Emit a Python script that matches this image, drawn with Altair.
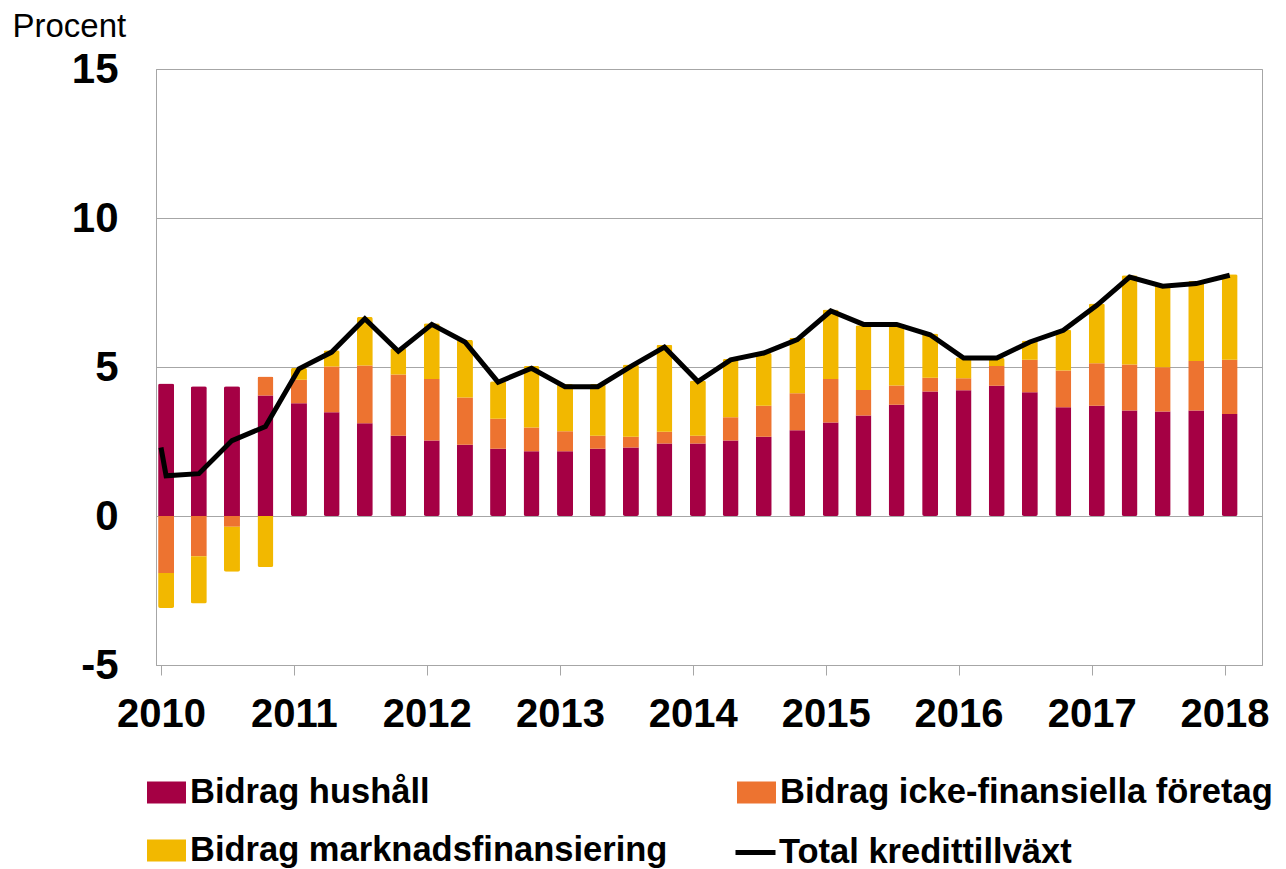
import altair as alt
import pandas as pd

# Quarter dates (mid-month of each quarter start)
quarters = [
    "2010-01-15", "2010-04-15", "2010-07-15", "2010-10-15",
    "2011-01-15", "2011-04-15", "2011-07-15", "2011-10-15",
    "2012-01-15", "2012-04-15", "2012-07-15", "2012-10-15",
    "2013-01-15", "2013-04-15", "2013-07-15", "2013-10-15",
    "2014-01-15", "2014-04-15", "2014-07-15", "2014-10-15",
    "2015-01-15", "2015-04-15", "2015-07-15", "2015-10-15",
    "2016-01-15", "2016-04-15", "2016-07-15", "2016-10-15",
    "2017-01-15", "2017-04-15", "2017-07-15", "2017-10-15",
    "2018-01-15",
]

hushall = [4.45, 4.35, 4.35, 4.04, 3.78, 3.48, 3.11, 2.69, 2.53, 2.39, 2.26, 2.17,
           2.17, 2.26, 2.30, 2.43, 2.43, 2.53, 2.66, 2.88, 3.14, 3.37, 3.73, 4.18,
           4.22, 4.37, 4.15, 3.65, 3.70, 3.54, 3.51, 3.54, 3.42]
icke_fin = [-1.91, -1.35, -0.36, 0.64, 0.79, 1.54, 1.94, 2.06, 2.07, 1.59, 1.00, 0.80,
            0.67, 0.43, 0.36, 0.40, 0.26, 0.78, 1.04, 1.24, 1.46, 0.86, 0.65, 0.46,
            0.40, 0.66, 1.09, 1.23, 1.43, 1.54, 1.48, 1.66, 1.82]
marknad = [-1.18, -1.59, -1.51, -1.71, 0.40, 0.54, 1.63, 0.88, 1.87, 1.93, 1.26, 2.06,
           1.59, 1.74, 2.42, 2.92, 1.86, 1.96, 1.77, 1.86, 2.33, 2.17, 2.07, 1.48,
           0.71, 0.27, 0.65, 1.37, 2.00, 3.00, 2.75, 2.69, 2.87]
total = [1.35, 1.42, 2.53, 3.00, 4.94, 5.50, 6.62, 5.53, 6.43, 5.84, 4.49, 4.96,
         4.34, 4.34, 5.02, 5.67, 4.51, 5.24, 5.47, 5.92, 6.88, 6.43, 6.43, 6.08,
         5.30, 5.30, 5.84, 6.23, 7.07, 8.02, 7.71, 7.80, 8.08]
line_start_date = "2010-01-01"
line_start_value = 2.3

series = ["Bidrag hushåll", "Bidrag icke-finansiella företag", "Bidrag marknadsfinansiering"]
colors = ["#a50044", "#ed7330", "#f2b800"]
line_name = "Total kredittillväxt"
years = [2010, 2011, 2012, 2013, 2014, 2015, 2016, 2017, 2018]
y_ticks = [-5, 0, 5, 10, 15]

FONT = "Liberation Sans"

n = len(quarters)
df_bars = pd.DataFrame({
    "date": pd.to_datetime(quarters * 3),
    "serie": [series[0]] * n + [series[1]] * n + [series[2]] * n,
    "value": hushall + icke_fin + marknad,
    "ord": [0] * n + [1] * n + [2] * n,
})
df_line = pd.DataFrame({
    "date": pd.to_datetime([line_start_date] + quarters),
    "value": [line_start_value] + total,
    "serie": line_name,
})

# legend is laid out column by column: column 1 = hushåll, marknad; column 2 = icke-fin
legend_order = [series[0], series[2], series[1]]
legend_colors = [colors[0], colors[2], colors[1]]

x_scale = alt.Scale(domain=[alt.DateTime(year=2010, month=1, date=1),
                            alt.DateTime(year=2018, month=3, date=31)])
y_scale = alt.Scale(domain=[-5, 15], nice=False)

x_axis = alt.Axis(
    values=[alt.DateTime(year=y, month=1, date=1) for y in years],
    format="%Y", title=None, grid=False,
    labelFont=FONT, labelFontSize=40, labelFontWeight="bold", labelColor="#000000",
    tickSize=10, tickColor="#a6a6a6", domainColor="#a6a6a6", labelPadding=19,
)
y_axis = alt.Axis(
    values=y_ticks, ticks=False, grid=True, gridColor="#a6a6a6", domainColor="#a6a6a6",
    labelFont=FONT, labelFontSize=42, labelFontWeight="bold", labelColor="#000000",
    labelPadding=38, labelExpr="replace(datum.label, '\u2212', '-')",
    title="Procent", titleAngle=0, titleAlign="left", titleBaseline="alphabetic",
    titleX=-144, titleY=-33, titleFont=FONT, titleFontSize=33, titleFontWeight="normal",
    titleColor="#000000",
)

bars = alt.Chart(df_bars).mark_bar(size=16, cornerRadius=2).encode(
    x=alt.X("date:T", scale=x_scale, axis=x_axis),
    y=alt.Y("value:Q", stack="zero", scale=y_scale, axis=y_axis),
    fill=alt.Fill("serie:N", scale=alt.Scale(domain=legend_order, range=legend_colors),
                  legend=alt.Legend(
                      title=None, orient="none", legendX=-9, legendY=704, columns=2,
                      columnPadding=69, rowPadding=22,
                      symbolType="M-1,-0.56H1V0.56H-1Z", symbolSize=1520,
                      symbolStrokeWidth=0, labelOffset=4,
                      labelFont=FONT, labelFontSize=34.5, labelFontWeight="bold",
                      labelColor="#000000", labelLimit=0)),
    order=alt.Order("ord:Q"),
)

line = alt.Chart(df_line).mark_line(strokeWidth=5).encode(
    x=alt.X("date:T", scale=x_scale),
    y=alt.Y("value:Q", scale=y_scale),
    stroke=alt.Stroke("serie:N", scale=alt.Scale(domain=[line_name], range=["#000000"]),
                      legend=alt.Legend(
                          title=None, orient="none", legendX=577, legendY=761,
                          symbolType="stroke", symbolSize=1600, symbolStrokeWidth=5,
                          labelOffset=1, labelFont=FONT, labelFontSize=34.5,
                          labelFontWeight="bold", labelColor="#000000", labelLimit=0)),
)

chart = alt.layer(bars, line).properties(
    width=1106, height=596,
    autosize=alt.AutoSizeParams(type="none"),
    padding={"left": 148, "top": 61, "right": 16, "bottom": 204},
).configure_view(stroke="#a6a6a6", strokeWidth=1)

chart.save("out.html", embed_options={"renderer": "svg", "actions": False})
